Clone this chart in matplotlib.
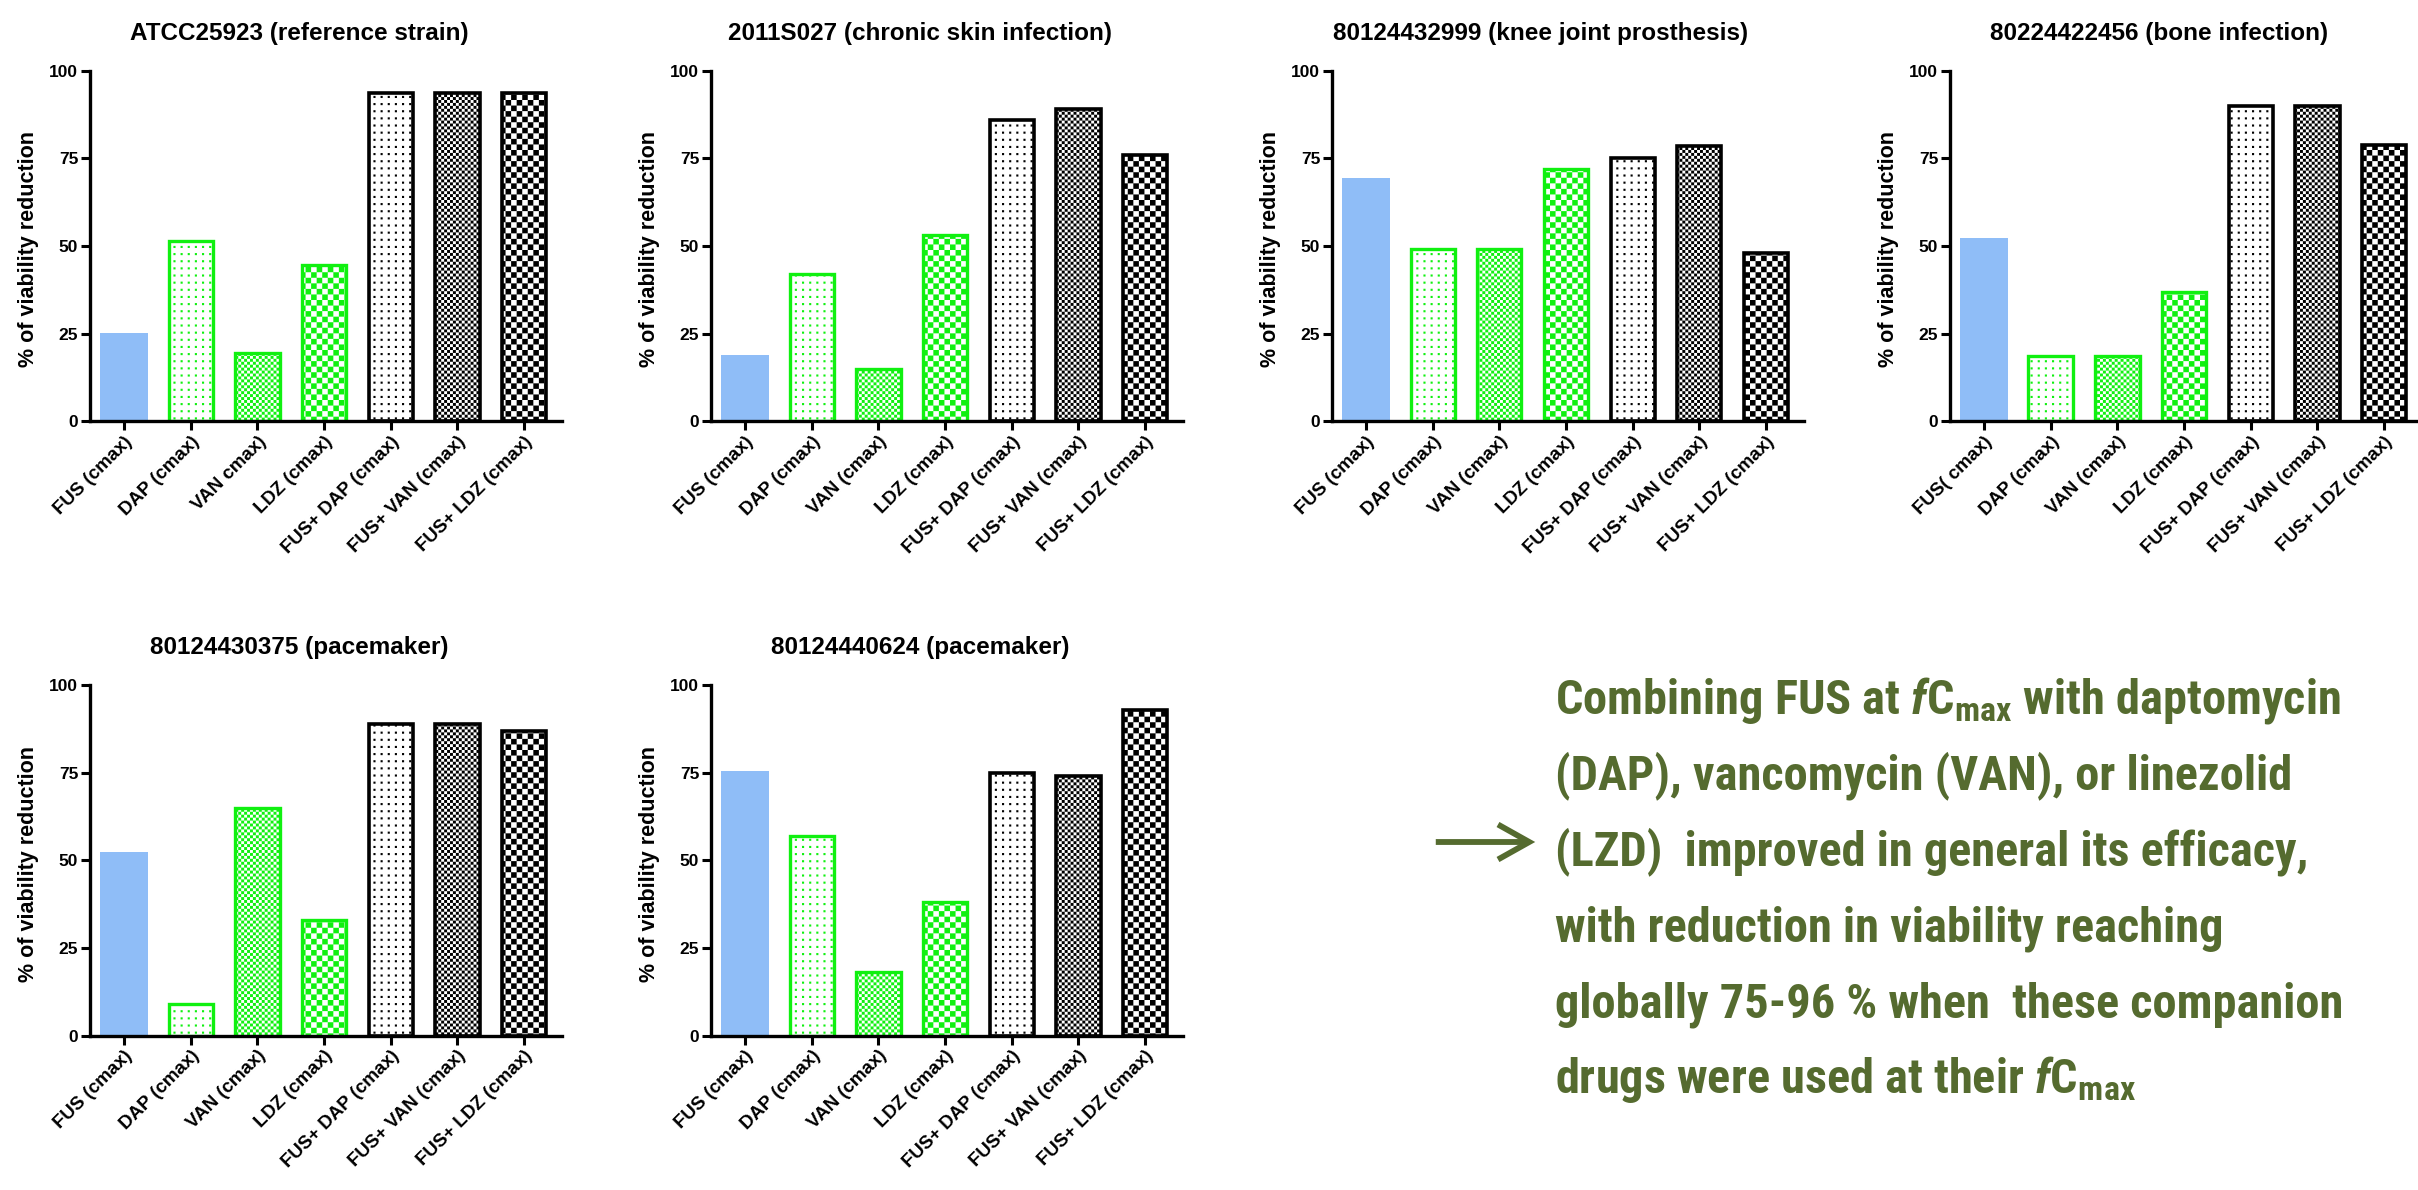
import numpy as np
import matplotlib
matplotlib.use("Agg")
import matplotlib.pyplot as plt
import matplotlib.hatch as mhatch
from matplotlib.path import Path
from matplotlib import font_manager as fm
from matplotlib.transforms import ScaledTranslation
from matplotlib.patches import FancyArrowPatch

# ---------------- data ----------------
panel_titles = [
    "ATCC25923 (reference strain)",
    "2011S027 (chronic skin infection)",
    "80124432999 (knee joint prosthesis)",
    "80224422456 (bone infection)",
    "80124430375 (pacemaker)",
    "80124440624 (pacemaker)",
]
labels_atcc = ["FUS (cmax)", "DAP (cmax)", "VAN cmax)", "LDZ (cmax)",
               "FUS+ DAP (cmax)", "FUS+ VAN (cmax)", "FUS+ LDZ (cmax)"]
labels_std = ["FUS (cmax)", "DAP (cmax)", "VAN (cmax)", "LDZ (cmax)",
              "FUS+ DAP (cmax)", "FUS+ VAN (cmax)", "FUS+ LDZ (cmax)"]
labels_bone = ["FUS( cmax)", "DAP (cmax)", "VAN (cmax)", "LDZ (cmax)",
               "FUS+ DAP (cmax)", "FUS+ VAN (cmax)", "FUS+ LDZ (cmax)"]

vals_atcc25923 = [25.3, 51.5, 19.5, 44.5, 93.5, 93.5, 93.5]
vals_2011s027 = [19.0, 42.0, 15.0, 53.0, 86.0, 89.0, 76.0]
vals_80124432999 = [69.3, 49.0, 49.0, 72.0, 75.0, 78.5, 48.0]
vals_80224422456 = [52.3, 18.5, 18.5, 36.8, 89.8, 89.8, 78.8]
vals_80124430375 = [52.3, 9.0, 65.0, 33.0, 89.0, 89.0, 87.0]
vals_80124440624 = [75.4, 57.0, 18.0, 38.0, 75.0, 74.0, 93.0]

yticks = [0, 25, 50, 75, 100]
ylabel_text = "% of viability reduction"

text_lines = [
    r"Combining FUS at $\mathit{f}\mathrm{C}_{\mathrm{max}}$ with daptomycin",
    "(DAP), vancomycin (VAN), or linezolid",
    "(LZD)  improved in general its efficacy,",
    "with reduction in viability reaching",
    "globally 75-96 % when  these companion",
    r"drugs were used at their $\mathit{f}\mathrm{C}_{\mathrm{max}}$",
]

# ---------------- fonts ----------------
def has_font(name):
    try:
        fm.findfont(fm.FontProperties(family=name), fallback_to_default=False)
        return True
    except Exception:
        return False

base_font = "Liberation Sans" if has_font("Liberation Sans") else "DejaVu Sans"
narrow_font = base_font
for cand in ["Liberation Sans Narrow", "Arial Narrow", "Roboto Condensed"]:
    if has_font(cand):
        narrow_font = cand
        break

plt.rcParams["font.family"] = [base_font, "DejaVu Sans"]
plt.rcParams["mathtext.fontset"] = "custom"
plt.rcParams["mathtext.rm"] = f"{narrow_font}:bold"
plt.rcParams["mathtext.bf"] = f"{narrow_font}:bold"
plt.rcParams["mathtext.it"] = f"{narrow_font}:italic:bold"
plt.rcParams["mathtext.sf"] = f"{narrow_font}:bold"
plt.rcParams["hatch.linewidth"] = 0.01


# ---------------- custom hatch patterns (checkers / dots) ----------------
class PixelHatch(mhatch.HatchPatternBase):
    def __init__(self, hatch, density):
        sq = []
        if "O" in hatch:          # coarse checker
            n = 18
            for i in range(n):
                for j in range(n):
                    if (i + j) % 2 == 0:
                        sq.append((i / n, j / n, 1.0 / n))
        elif "o" in hatch:        # fine checker
            n = 34
            for i in range(n):
                for j in range(n):
                    if (i + j) % 2 == 0:
                        sq.append((i / n, j / n, 1.0 / n))
        elif "." in hatch:        # sparse dots
            n = 14
            s = 0.021
            for i in range(n):
                for j in range(n):
                    sq.append((i / n + 0.02, j / n + 0.02, s))
        self.squares = sq
        self.num_vertices = 5 * len(sq)

    def set_vertices_and_codes(self, vertices, codes):
        for k, (x, y, s) in enumerate(self.squares):
            vertices[5 * k:5 * k + 5] = [[x, y], [x + s, y], [x + s, y + s],
                                         [x, y + s], [x, y]]
            codes[5 * k:5 * k + 5] = [Path.MOVETO, Path.LINETO, Path.LINETO,
                                      Path.LINETO, Path.CLOSEPOLY]


mhatch._hatch_types[:] = [PixelHatch]

# ---------------- styles ----------------
BLUE = "#8fbdf7"
GREEN = "#10f010"
BLACK = "#000000"
OLIVE = "#556b2f"

faces = [BLUE, "white", "white", "white", "white", "white", "white"]
edges = [BLUE, GREEN, GREEN, GREEN, BLACK, BLACK, BLACK]
lws = [0.0, 2.4, 2.4, 2.4, 2.6, 2.6, 2.6]
hatches = [None, ".", "o", "O", ".", "o", "O"]
widths = [0.715, 0.665, 0.665, 0.665, 0.665, 0.665, 0.665]

W, H = 2418, 1190
fig = plt.figure(figsize=(W / 100, H / 100), dpi=100)

panels = [
    (panel_titles[0], labels_atcc, vals_atcc25923, 90, 70.7),
    (panel_titles[1], labels_std, vals_2011s027, 711, 70.7),
    (panel_titles[2], labels_std, vals_80124432999, 1332, 70.7),
    (panel_titles[3], labels_bone, vals_80224422456, 1950, 70.7),
    (panel_titles[4], labels_std, vals_80124430375, 90, 685),
    (panel_titles[5], labels_std, vals_80124440624, 711, 685),
]
ax_w, ax_h = 472, 350.5

for title, labels, vals, left, top in panels:
    ax = fig.add_axes([left / W, 1 - (top + ax_h) / H, ax_w / W, ax_h / H])
    x = np.arange(len(vals))
    bars = ax.bar(x, vals, width=widths, color=faces, edgecolor=edges,
                  linewidth=lws, zorder=2)
    for b, h in zip(bars, hatches):
        if h:
            b.set_hatch(h)
    ax.set_xlim(-0.51, 6.57)
    ax.set_ylim(0, 100)
    ax.set_yticks(yticks)
    ax.set_yticklabels([str(t) for t in yticks], fontsize=12.5, fontweight="bold")
    ax.set_xticks(x)
    ax.set_xticklabels(labels, rotation=45, ha="right", va="top",
                       rotation_mode="anchor", fontsize=13.5, fontweight="bold")
    off = ScaledTranslation(5 / 100, -16 / 100, fig.dpi_scale_trans)
    for lab in ax.get_xticklabels():
        lab.set_transform(lab.get_transform() + off)
    for side in ("top", "right"):
        ax.spines[side].set_visible(False)
    for side in ("left", "bottom"):
        ax.spines[side].set_linewidth(2.4)
        ax.spines[side].set_zorder(3)
    ax.tick_params(axis="both", length=6.5, width=2.2, direction="out", pad=2)
    ax.set_ylabel(ylabel_text, fontsize=15.5, fontweight="bold")
    ax.yaxis.set_label_coords(-0.108, 0.49)
    ax.patch.set_visible(False)
    fig.text((left + 209) / W, 1 - (top - 31) / H, title, ha="center",
             va="baseline", fontsize=17.5, fontweight="bold")

# ---------------- annotation text ----------------
baselines = [713, 789, 865, 941, 1017, 1093]
for line, b in zip(text_lines, baselines):
    fig.text(1555 / W, 1 - b / H, line, ha="left", va="baseline",
             fontsize=34.8, fontweight="bold", color=OLIVE,
             family=[narrow_font, "DejaVu Sans"])

arrow = FancyArrowPatch((1433 / W, 1 - 842 / H), (1538 / W, 1 - 842 / H),
                        transform=fig.transFigure,
                        arrowstyle="->,head_length=0.75,head_width=0.42",
                        mutation_scale=30, lw=4.2, color=OLIVE,
                        capstyle="butt", joinstyle="miter")
fig.add_artist(arrow)

fig.savefig("out.png", dpi=100)
